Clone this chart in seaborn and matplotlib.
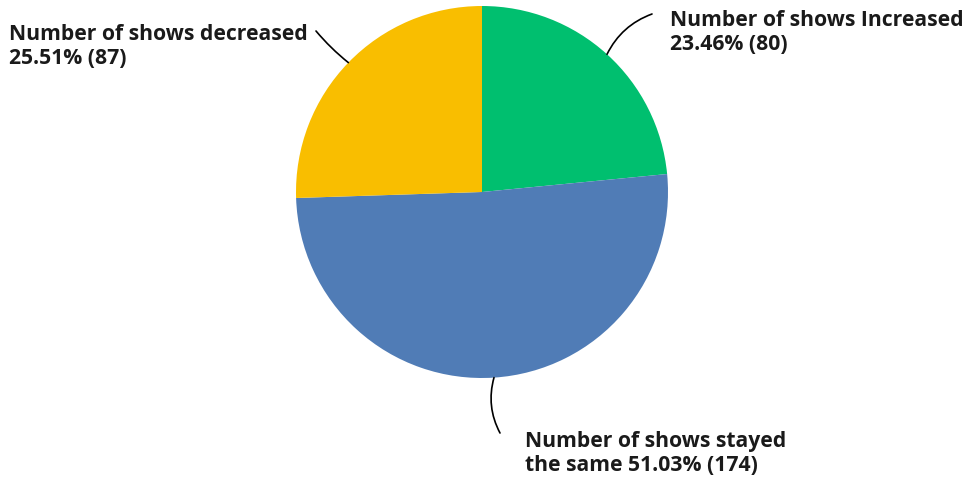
import matplotlib.pyplot as plt
import seaborn as sns
import numpy as np

sns.set_style('white')
plt.rcParams['font.family'] = ['Open Sans', 'DejaVu Sans']

labels = ['Number of shows Increased', 'Number of shows stayed\nthe same', 'Number of shows decreased']
counts = [80, 174, 87]
pcts = ['23.46%', '51.03%', '25.51%']
colors = ['#00BF6F', '#507CB6', '#F9BE00']

fig = plt.figure(figsize=(9.73, 4.83), dpi=100)
ax = fig.add_axes([0, 0, 1, 1])

cx, cy, r = 482, 291, 186
wedges, _ = ax.pie(counts, colors=colors, startangle=90, counterclock=False,
                   center=(cx, cy), radius=r, frame=True,
                   wedgeprops=dict(linewidth=0))
ax.set_xlim(0, 973)
ax.set_ylim(0, 483)
ax.set_aspect('equal')
ax.axis('off')

# label text, where the text starts, where the leader line starts, curve
txt = [f'{labels[0]}\n{pcts[0]} ({counts[0]})',
       f'{labels[1]} {pcts[1]} ({counts[1]})',
       f'{labels[2]}\n{pcts[2]} ({counts[2]})']
txt_pos = [(670, 473), (525, 52), (9, 459)]
line_start = [(652, 469), (500, 50), (316, 452)]
rads = [0.2, -0.2, 0.05]

for w, t, tp, ls, rad in zip(wedges, txt, txt_pos, line_start, rads):
    mid = np.deg2rad((w.theta1 + w.theta2) / 2)
    pt = (cx + r * np.cos(mid), cy + r * np.sin(mid))
    ax.text(tp[0], tp[1], t, ha='left', va='top', fontsize=15.2,
            fontweight='bold', color='#1a1a1a', linespacing=1.2)
    ax.annotate('', xy=pt, xytext=ls,
                arrowprops=dict(arrowstyle='-', color='black', lw=1.2,
                                connectionstyle=f'arc3,rad={rad}',
                                shrinkA=0, shrinkB=0))

fig.savefig('out.png', dpi=100)
